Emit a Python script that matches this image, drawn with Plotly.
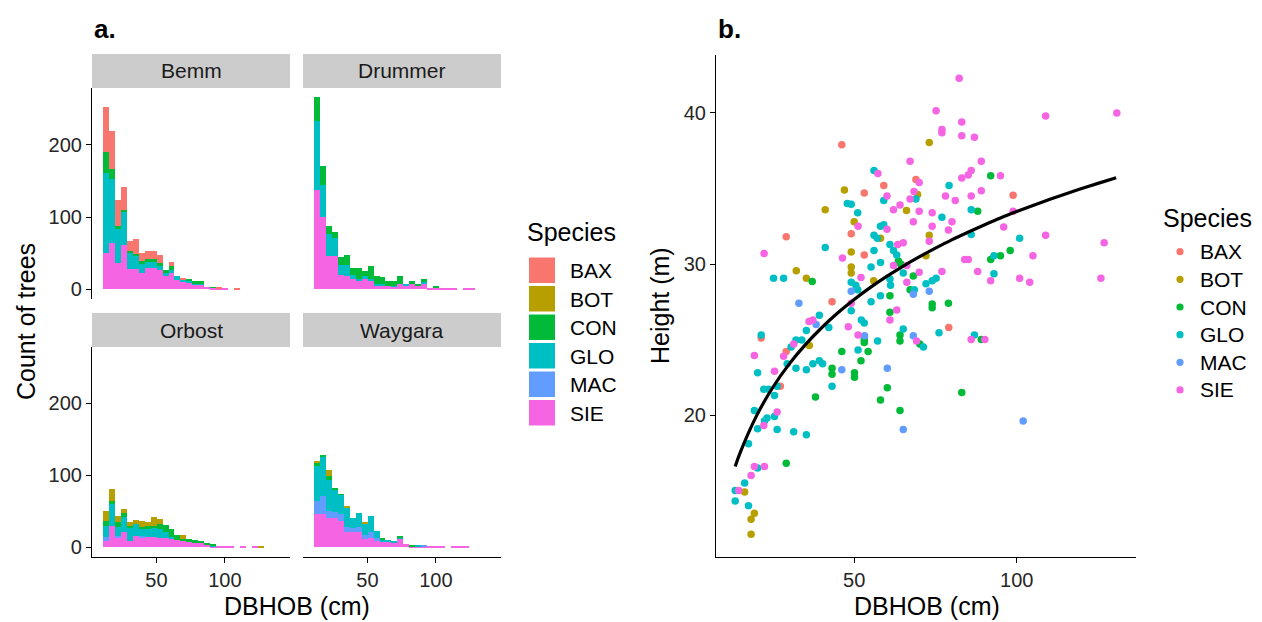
import plotly.graph_objects as go

# ---------------- data ----------------
SPECIES = ["BAX", "BOT", "CON", "GLO", "MAC", "SIE"]
COLORS = ["#F8766D", "#B79F00", "#00BA38", "#00BFC4", "#619CFF", "#F564E3"]
SITES = ["Bemm", "Drummer", "Orbost", "Waygara"]

BIN_START = 11.0
BIN_WIDTH = 4.35
N_BINS = 30

# stacked histogram counts per bin (DBHOB bins), per site and species
BEMM_SIE = [50, 64, 37, 62, 28, 28, 22, 30, 29, 27, 18, 22, 13, 11, 9, 7, 7, 3, 2, 1, 1]
BEMM_GLO = [111, 88, 46, 45, 22, 18, 13, 8, 9, 6, 5, 5, 5, 2, 2, 1, 1]
BEMM_CON = [29, 14, 4, 3, 3, 3, 4, 4, 4, 4, 4, 6, 0, 1, 3, 3, 4, 0, 1]
BEMM_BAX = [62, 53, 37, 31, 14, 21, 11, 11, 11, 10, 0, 5, 0, 1, 0, 0, 0, 0, 0, 1, 0, 0, 1]

DRUM_SIE = [138, 100, 46, 46, 20, 18, 14, 12, 14, 12, 6, 6, 5, 4, 7, 6, 7, 6, 8, 1, 2, 1, 1, 1, 0, 1, 1]
DRUM_GLO = [94, 44, 31, 25, 14, 16, 6, 3, 4, 2, 2, 2, 0, 1, 0, 1, 0, 0, 2]
DRUM_CON = [34, 26, 10, 8, 11, 14, 9, 14, 8, 19, 10, 9, 6, 7, 11, 0, 5, 2, 4, 0, 2]

ORB_SIE = [9, 30, 13, 22, 9, 16, 13, 14, 15, 13, 13, 12, 10, 9, 8, 6, 6, 3, 2, 2, 2, 1, 0, 1, 0, 1]
ORB_MAC = [5, 0, 3, 0, 0, 0, 3]
ORB_GLO = [16, 30, 13, 20, 18, 17, 10, 12, 13, 13, 8, 2, 0, 0, 0, 0, 0, 0, 1]
ORB_CON = [7, 4, 7, 6, 3, 0, 3, 4, 2, 7, 10, 12, 7, 3, 4, 4, 3, 3, 1]
ORB_BOT = [13, 17, 8, 6, 5, 5, 8, 5, 12, 7, 0, 0, 0, 5, 0, 0, 0, 0, 0, 0, 0, 0, 0, 0, 0, 0, 1]

WAY_SIE = [47, 46, 41, 41, 37, 21, 21, 21, 12, 13, 9, 7, 7, 7, 12, 5, 2, 2, 2, 1, 1, 1, 0, 1, 1, 1]
WAY_MAC = [17, 26, 10, 8, 9, 7, 6, 7, 5, 8, 4, 0, 0, 0, 0, 0, 0, 0, 1]
WAY_GLO = [49, 54, 43, 31, 27, 28, 14, 20, 16, 23, 10, 4, 4, 2, 2, 0, 0, 1]
WAY_CON = [5, 3, 5, 2, 1, 0, 0, 0, 0, 0, 0, 2, 0, 0, 2, 0, 1]
WAY_BOT = [2, 0, 8, 0, 0, 1, 0, 0, 3]

# scatter: DBHOB (cm) vs Height (m)
BAX_X = [46.2, 69.0, 59.1, 53.1, 49.1, 29.1, 53.1, 43.2, 21.4, 29.1, 27.3, 98.9, 79.1]
BAX_Y = [37.9, 35.6, 35.2, 34.7, 32.0, 31.8, 30.6, 27.5, 25.1, 24.2, 21.9, 34.55, 25.8]

BOT_X = [47.0, 41.1, 66.1, 50.0, 58.1, 49.1, 32.2, 35.3, 49.1, 49.1, 56.0, 36.2, 16.3, 19.3,
         18.3, 18.3, 73.1, 73.1, 72.1, 69.5]
BOT_Y = [34.9, 33.6, 33.55, 32.8, 31.7, 30.8, 29.55, 29.05, 29.8, 29.4, 28.9, 24.6, 14.9, 13.5,
         13.1, 12.1, 38.05, 31.9, 30.55, 34.6]

CON_X = [37.1, 63.6, 64.3, 67.2, 61.0, 61.0, 43.2, 43.2, 46.2, 53.1, 53.1, 54.3, 52.1, 50.1,
         50.1, 64.1, 64.1, 60.2, 58.1, 64.1, 38.1, 29.1, 92.0, 88.0, 95.0, 92.0, 98.0, 68.2,
         74.0, 74.0, 79.0, 70.2, 89.1, 83.1]
CON_Y = [28.85, 30.2, 30.0, 28.3, 27.9, 26.8, 23.1, 22.7, 24.2, 25.0, 24.8, 24.2, 23.6, 22.8,
         22.5, 25.3, 24.9, 21.8, 21.0, 20.3, 21.2, 16.8, 35.85, 33.5, 30.55, 30.3, 30.9, 29.2,
         27.35, 27.1, 27.4, 24.7, 25.0, 21.5]

GLO_X = [56.1, 59.1, 69.0, 47.9, 49.1, 51.1, 58.1, 59.1, 41.1, 56.1, 57.1, 61.0, 62.1, 56.1,
         63.1, 58.1, 55.2, 65.1, 25.2, 28.3, 49.1, 50.5, 61.0, 61.2, 68.5, 58.1, 55.2, 49.1,
         52.2, 53.1, 39.3, 35.3, 42.2, 65.1, 21.4, 30.6, 32.1, 33.9, 29.4, 32.1, 35.3, 37.3,
         39.3, 40.3, 43.2, 51.2, 57.2, 26.3, 22.2, 23.7, 25.5, 19.3, 25.5, 23.2, 22.4, 20.3,
         26.3, 31.4, 35.3, 17.5, 20.3, 16.3, 13.4, 13.4, 17.5, 20.3, 79.2, 77.0, 86.0, 86.0,
         100.9, 93.0, 93.0, 72.1, 74.0, 75.2, 76.1, 87.0, 71.3, 51.1]
GLO_Y = [36.2, 34.2, 34.3, 34.0, 33.95, 33.4, 32.5, 32.6, 31.1, 31.9, 31.7, 31.3, 30.9, 30.9,
         30.6, 30.1, 29.8, 29.4, 29.05, 29.05, 28.8, 28.6, 29.0, 28.6, 28.3, 27.9, 27.5, 26.9,
         26.3, 26.1, 26.6, 25.6, 25.8, 25.7, 25.3, 24.5, 24.97, 24.97, 23.4, 23.1, 23.0, 23.4,
         23.6, 23.4, 21.9, 24.3, 24.9, 21.9, 21.7, 21.7, 21.3, 20.3, 19.9, 19.8, 19.6, 19.1,
         19.05, 18.9, 18.7, 18.1, 16.5, 15.5, 15.0, 14.3, 14.0, 22.8, 35.2, 33.1, 33.6, 31.95,
         31.7, 30.55, 29.35, 28.7, 28.9, 29.05, 25.45, 25.3, 24.5, 28.3]

MAC_X = [49.1, 33.0, 38.3, 46.2, 60.2, 65.1, 102.0, 68.2, 73.1, 68.2, 53.2]
MAC_Y = [28.2, 27.4, 26.0, 23.0, 23.1, 19.05, 19.6, 28.0, 28.2, 25.25, 25.25]

SIE_X = [67.2, 57.3, 60.1, 67.2, 68.4, 62.1, 64.1, 68.2, 51.2, 60.1, 63.4, 65.1, 22.3, 46.4,
         62.1, 66.2, 52.1, 66.2, 49.1, 61.0, 63.1, 36.1, 37.3, 48.2, 51.2, 19.3, 25.5, 28.3,
         31.4, 26.3, 22.2, 19.3, 22.4, 18.3, 14.5, 75.2, 108.9, 130.8, 83.1, 77.0, 77.0, 83.1,
         87.0, 89.1, 86.0, 85.1, 83.1, 95.0, 70.0, 78.1, 81.1, 86.0, 89.1, 70.0, 74.0, 80.1,
         98.9, 74.0, 79.0, 73.1, 96.0, 108.9, 126.9, 84.0, 85.1, 105.0, 88.0, 92.0, 100.9,
         104.0, 125.9, 77.0, 70.0, 69.2, 86.0, 90.2, 82.3]
SIE_Y = [36.8, 36.0, 34.5, 34.3, 34.8, 33.6, 33.9, 32.8, 32.5, 32.3, 31.3, 31.4, 30.7, 30.4,
         29.9, 29.9, 29.1, 28.8, 27.4, 26.3, 26.95, 26.2, 26.3, 25.85, 25.3, 23.95, 22.9, 23.9,
         24.7, 20.2, 19.3, 16.6, 16.6, 16.0, 15.0, 40.15, 39.8, 40.0, 39.4, 38.9, 38.7, 38.5,
         38.4, 36.8, 36.2, 35.9, 35.7, 35.85, 35.4, 34.5, 34.2, 34.5, 34.85, 33.5, 33.4, 32.8,
         33.5, 32.5, 32.25, 31.5, 32.45, 31.9, 31.4, 30.3, 30.3, 30.55, 29.5, 28.9, 29.05,
         28.8, 29.05, 29.5, 29.45, 24.9, 25.0, 25.0, 42.3]

# fitted curve
CURVE_X = [13.4, 15, 20, 25, 30, 35, 40, 45, 50, 55, 60, 65, 70, 75, 80, 85, 90, 95, 100,
           105, 110, 115, 120, 125, 130.6]
CURVE_Y = [16.6, 17.55, 19.96, 21.84, 23.37, 24.66, 25.78, 26.77, 27.65, 28.45, 29.18, 29.85,
           30.47, 31.05, 31.6, 32.1, 32.58, 33.04, 33.47, 33.88, 34.27, 34.64, 35.0, 35.34, 35.71]

# ---------------- figure ----------------
W, H = 1262, 622
FONT = "Liberation Sans, Arial, Helvetica, sans-serif"
TICK_COLOR = "#262626"


def fx(p):
    return p / W


def fy(p):
    return 1 - p / H


def pad(vals):
    return list(vals) + [0] * (N_BINS - len(vals))


centers = [BIN_START + BIN_WIDTH * (i + 0.5) for i in range(N_BINS)]

site_data = [
    {"SIE": BEMM_SIE, "GLO": BEMM_GLO, "CON": BEMM_CON, "BAX": BEMM_BAX},
    {"SIE": DRUM_SIE, "GLO": DRUM_GLO, "CON": DRUM_CON},
    {"SIE": ORB_SIE, "MAC": ORB_MAC, "GLO": ORB_GLO, "CON": ORB_CON, "BOT": ORB_BOT},
    {"SIE": WAY_SIE, "MAC": WAY_MAC, "GLO": WAY_GLO, "CON": WAY_CON, "BOT": WAY_BOT},
]

fig = go.Figure()

# stacking order: SIE at bottom ... BAX on top
stack_order = list(reversed(SPECIES))
color_of = dict(zip(SPECIES, COLORS))
for k, data in enumerate(site_data):
    ax = "" if k == 0 else str(k + 1)
    for sp in stack_order:
        if sp not in data:
            continue
        fig.add_trace(go.Bar(
            x=centers, y=pad(data[sp]), width=BIN_WIDTH,
            marker=dict(color=color_of[sp], line=dict(width=0)),
            name=sp, showlegend=False, hoverinfo="skip",
            xaxis="x" + ax, yaxis="y" + ax,
        ))

scatter_sets = [(BAX_X, BAX_Y), (BOT_X, BOT_Y), (CON_X, CON_Y), (GLO_X, GLO_Y),
                (MAC_X, MAC_Y), (SIE_X, SIE_Y)]
for sp, col, (xs, ys) in zip(SPECIES, COLORS, scatter_sets):
    fig.add_trace(go.Scatter(
        x=xs, y=ys, mode="markers", name=sp,
        marker=dict(color=col, size=7.5, line=dict(width=0)),
        xaxis="x5", yaxis="y5", showlegend=False,
    ))

fig.add_trace(go.Scatter(
    x=CURVE_X, y=CURVE_Y, mode="lines",
    line=dict(color="black", width=3.2, shape="spline", smoothing=1.0),
    xaxis="x5", yaxis="y5", showlegend=False, hoverinfo="skip",
))

# ---- axes ----
top_y = [fy(299), fy(88)]
bot_y = [fy(557), fy(347)]
left_x = [fx(92), fx(290)]
right_x = [fx(303), fx(501)]
XR = [3.0, 147.5]
YR = [-13.25, 278.25]

tickfont = dict(family=FONT, size=20, color=TICK_COLOR)
base_axis = dict(showgrid=False, zeroline=False, tickfont=tickfont,
                 linecolor="black", linewidth=1.2, tickcolor="black", ticklen=5, tickwidth=1.2)

layout_axes = dict(
    xaxis=dict(base_axis, domain=left_x, range=XR, anchor="y", showline=False,
               showticklabels=False, ticks=""),
    yaxis=dict(base_axis, domain=top_y, range=YR, anchor="x", showline=True,
               tickvals=[0, 100, 200], ticks="outside"),
    xaxis2=dict(base_axis, domain=right_x, range=XR, anchor="y2", showline=False,
                showticklabels=False, ticks=""),
    yaxis2=dict(base_axis, domain=top_y, range=YR, anchor="x2", showline=False,
                showticklabels=False, ticks=""),
    xaxis3=dict(base_axis, domain=left_x, range=XR, anchor="y3", showline=True,
                tickvals=[50, 100], ticks="outside"),
    yaxis3=dict(base_axis, domain=bot_y, range=YR, anchor="x3", showline=True,
                tickvals=[0, 100, 200], ticks="outside"),
    xaxis4=dict(base_axis, domain=right_x, range=XR, anchor="y4", showline=True,
                tickvals=[50, 100], ticks="outside"),
    yaxis4=dict(base_axis, domain=bot_y, range=YR, anchor="x4", showline=False,
                showticklabels=False, ticks=""),
    xaxis5=dict(base_axis, domain=[fx(716), fx(1136)], range=[7.5, 136.7], anchor="y5",
                showline=True, tickvals=[50, 100], ticks="outside"),
    yaxis5=dict(base_axis, domain=[fy(557), fy(55)], range=[10.6, 43.84], anchor="x5",
                showline=True, tickvals=[20, 30, 40], ticks="outside"),
)

shapes = []
annotations = []

# facet strips
strips = [(92, 290, 54, 88), (303, 501, 54, 88), (92, 290, 313, 347), (303, 501, 313, 347)]
for name, (x0, x1, y0, y1) in zip(SITES, strips):
    shapes.append(dict(type="rect", xref="paper", yref="paper", x0=fx(x0), x1=fx(x1),
                       y0=fy(y1), y1=fy(y0), fillcolor="#CCCCCC", line=dict(width=0),
                       layer="below"))
    annotations.append(dict(text=name, x=fx((x0 + x1) / 2), y=fy((y0 + y1) / 2),
                            xref="paper", yref="paper", showarrow=False,
                            font=dict(family=FONT, size=21, color="#1a1a1a"),
                            xanchor="center", yanchor="middle"))

legend_title_font = dict(family=FONT, size=25, color="black")
legend_font = dict(family=FONT, size=21, color="black")

# left legend (fill keys)
annotations.append(dict(text="Species", x=fx(525), y=fy(232), xref="paper", yref="paper",
                        showarrow=False, xanchor="left", yanchor="middle",
                        font=legend_title_font))
for i, (sp, col) in enumerate(zip(SPECIES, COLORS)):
    y0 = 257.5 + 28.5 * i
    shapes.append(dict(type="rect", xref="paper", yref="paper", x0=fx(529), x1=fx(555),
                       y0=fy(y0 + 25.5), y1=fy(y0), fillcolor=col, line=dict(width=0)))
    annotations.append(dict(text=sp, x=fx(568), y=fy(y0 + 13), xref="paper", yref="paper",
                            showarrow=False, xanchor="left", yanchor="middle",
                            font=legend_font))

# right legend (point keys)
annotations.append(dict(text="Species", x=fx(1161), y=fy(218), xref="paper", yref="paper",
                        showarrow=False, xanchor="left", yanchor="middle",
                        font=legend_title_font))
for i, (sp, col) in enumerate(zip(SPECIES, COLORS)):
    yc = 251.7 + 27.65 * i
    r = 3.6
    shapes.append(dict(type="circle", xref="paper", yref="paper", x0=fx(1180 - r),
                       x1=fx(1180 + r), y0=fy(yc + r), y1=fy(yc - r), fillcolor=col,
                       line=dict(width=0)))
    annotations.append(dict(text=sp, x=fx(1198), y=fy(yc), xref="paper", yref="paper",
                            showarrow=False, xanchor="left", yanchor="middle",
                            font=legend_font))

# axis titles and panel tags
title_font = dict(family=FONT, size=25, color="black")
annotations += [
    dict(text="Count of trees", x=fx(26), y=fy(322), xref="paper", yref="paper",
         showarrow=False, textangle=-90, font=title_font, xanchor="center", yanchor="middle"),
    dict(text="DBHOB (cm)", x=fx(297), y=fy(606), xref="paper", yref="paper",
         showarrow=False, font=title_font, xanchor="center", yanchor="middle"),
    dict(text="DBHOB (cm)", x=fx(927), y=fy(606), xref="paper", yref="paper",
         showarrow=False, font=title_font, xanchor="center", yanchor="middle"),
    dict(text="Height (m)", x=fx(660), y=fy(306), xref="paper", yref="paper",
         showarrow=False, textangle=-90, font=title_font, xanchor="center", yanchor="middle"),
    dict(text="<b>a.</b>", x=fx(92), y=fy(29), xref="paper", yref="paper", showarrow=False,
         font=dict(family=FONT, size=26, color="black"), xanchor="left", yanchor="middle"),
    dict(text="<b>b.</b>", x=fx(716), y=fy(29), xref="paper", yref="paper", showarrow=False,
         font=dict(family=FONT, size=26, color="black"), xanchor="left", yanchor="middle"),
]

fig.update_layout(
    width=W, height=H,
    margin=dict(l=0, r=0, t=0, b=0),
    paper_bgcolor="white", plot_bgcolor="white",
    barmode="stack", bargap=0,
    font=dict(family=FONT, color="black"),
    shapes=shapes, annotations=annotations,
    showlegend=False,
    **layout_axes,
)

fig.write_html(
    "out.html",
    config={"displayModeBar": False},
    post_script="document.body.style.margin='0';document.body.style.overflow='hidden';",
)
